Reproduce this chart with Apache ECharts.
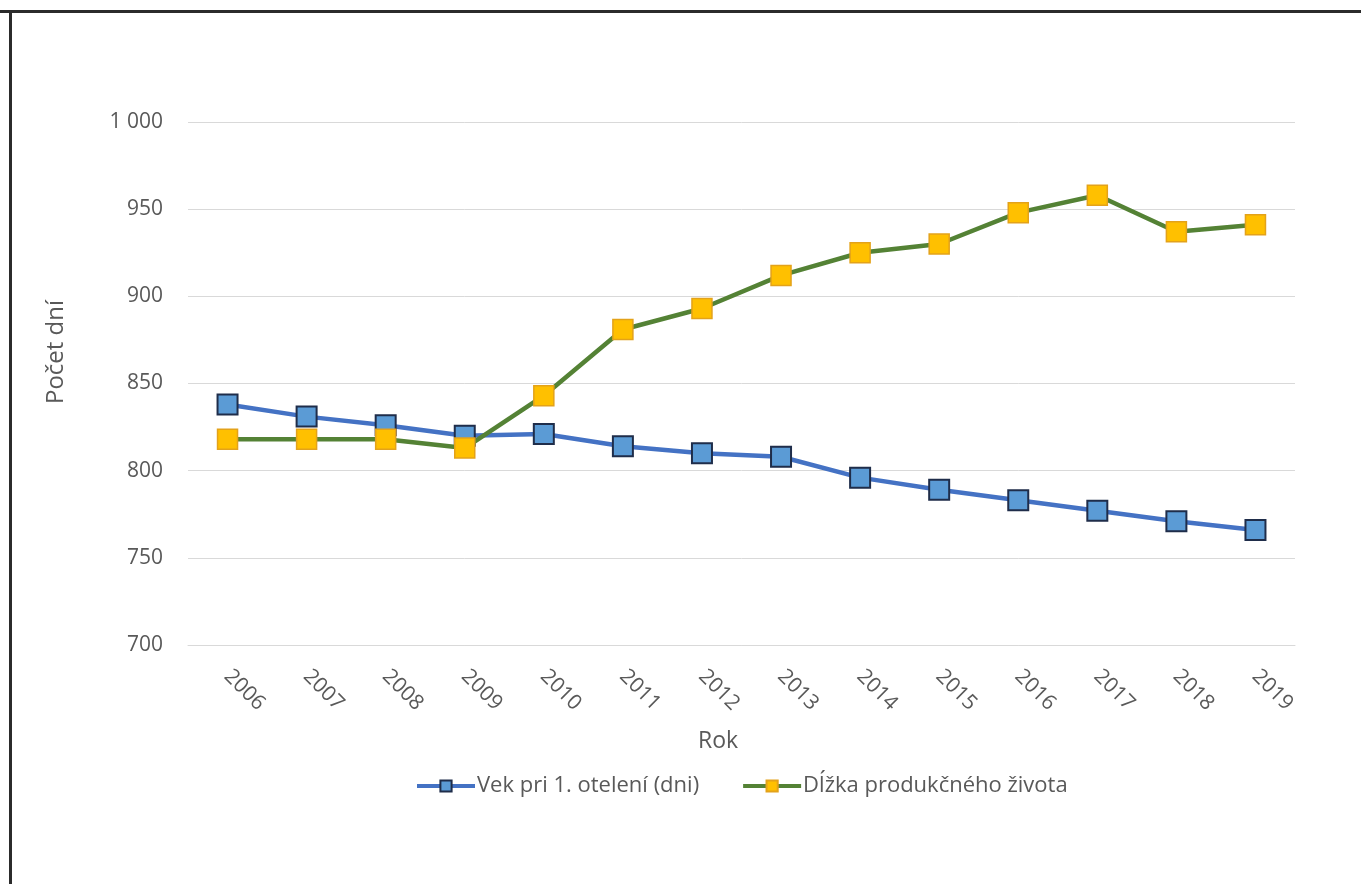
<!DOCTYPE html>
<html>
<head>
<meta charset="utf-8">
<script src="https://cdn.jsdelivr.net/npm/echarts@6/dist/echarts.min.js"></script>
<style>
  html, body { margin: 0; padding: 0; background: #fff; }
  #chart { width: 1361px; height: 884px; }
</style>
</head>
<body>
<div id="chart"></div>
<script>
// Years on the category axis
const years = ['2006', '2007', '2008', '2009', '2010', '2011', '2012', '2013', '2014', '2015', '2016', '2017', '2018', '2019'];

// Age at first calving (days)
const vekPriOteleni = [838, 831, 826, 820, 821, 814, 810, 808, 796, 789, 783, 777, 771, 766];

// Length of productive life (days)
const dlzkaZivota = [818, 818, 818, 813, 843, 881, 893, 912, 925, 930, 948, 958, 937, 941];

const seriesNames = ['Vek pri 1. otelení (dni)', 'Dĺžka produkčného života'];
const xTitle = 'Rok';
const yTitle = 'Počet dní';

const FONT = '"Open Sans", "Noto Sans", sans-serif';
const GREY = '#595959';

const chart = echarts.init(document.getElementById('chart'), null, { renderer: 'canvas' });

chart.setOption({
  backgroundColor: '#ffffff',
  animation: false,
  textStyle: { fontFamily: FONT },
  grid: { left: 188, right: 66, top: 122, bottom: 239, containLabel: false },
  graphic: [
    // frame lines along the top and left edges
    { type: 'rect', shape: { x: 0, y: 10, width: 1361, height: 3 }, style: { fill: '#2b2b2b' }, silent: true },
    { type: 'rect', shape: { x: 9, y: 10, width: 3, height: 874 }, style: { fill: '#2b2b2b' }, silent: true },
    // axis titles
    {
      type: 'text', x: 56, y: 352, rotation: Math.PI / 2,
      style: { text: yTitle, fill: GREY, font: '24px ' + FONT, align: 'center', verticalAlign: 'middle' },
      silent: true
    },
    {
      type: 'text', x: 718, y: 741,
      style: { text: xTitle, fill: GREY, font: '23px ' + FONT, align: 'center', verticalAlign: 'middle' },
      silent: true
    }
  ],
  legend: {
    data: seriesNames,
    left: 410,
    top: 770,
    itemWidth: 58,
    itemHeight: 14,
    itemGap: 42,
    lineStyle: { width: 4 },
    textStyle: { fontSize: 22, color: GREY, fontFamily: FONT, padding: [0, 0, 0, -3] }
  },
  xAxis: {
    type: 'category',
    data: years,
    boundaryGap: true,
    axisLine: { show: true, lineStyle: { color: '#d9d9d9', width: 1 } },
    axisTick: { show: false },
    axisLabel: {
      rotate: -45,
      margin: 28,
      fontSize: 21,
      color: GREY,
      fontFamily: FONT
    }
  },
  yAxis: {
    type: 'value',
    min: 700,
    max: 1000,
    interval: 50,
    axisLine: { show: false },
    axisTick: { show: false },
    axisLabel: {
      margin: 25,
      fontSize: 21,
      color: GREY,
      fontFamily: FONT,
      formatter: function (v) {
        return v >= 1000 ? String(v).replace(/\B(?=(\d{3})+(?!\d))/g, ' ') : String(v);
      }
    },
    splitLine: { show: true, lineStyle: { color: '#d9d9d9', width: 1 } }
  },
  series: [
    {
      name: seriesNames[0],
      type: 'line',
      data: vekPriOteleni,
      symbol: 'rect',
      symbolSize: 20,
      lineStyle: { color: '#4472c4', width: 4.5 },
      itemStyle: { color: '#5b9bd5', borderColor: '#1f2d4a', borderWidth: 2 },
      z: 2
    },
    {
      name: seriesNames[1],
      type: 'line',
      data: dlzkaZivota,
      symbol: 'rect',
      symbolSize: 20,
      lineStyle: { color: '#548235', width: 4.5 },
      itemStyle: { color: '#ffc000', borderColor: '#e3a21a', borderWidth: 1.5 },
      z: 3
    }
  ]
});
</script>
</body>
</html>
